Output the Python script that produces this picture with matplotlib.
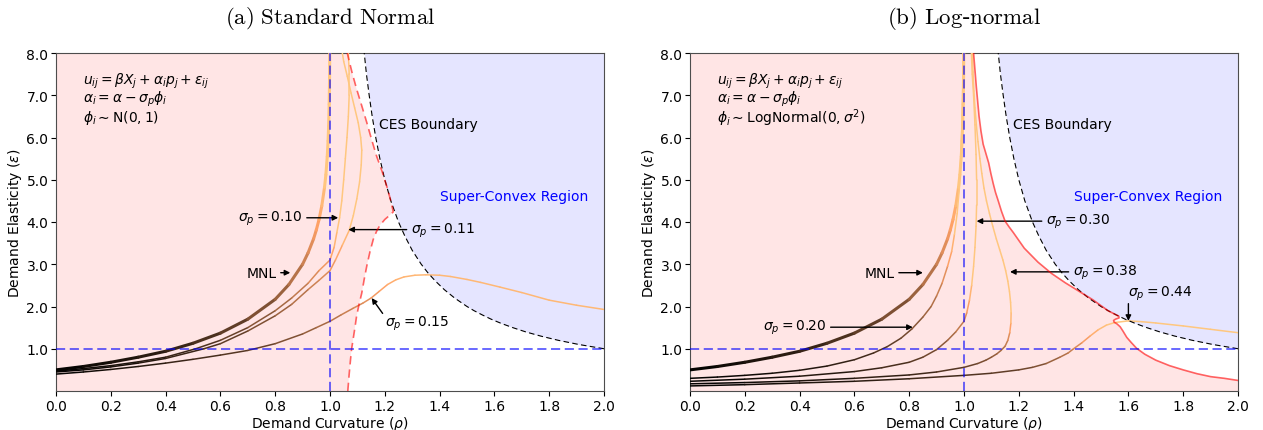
import numpy as np
import matplotlib.pyplot as plt
from matplotlib.collections import LineCollection

# MNL benchmark (same in both panels): demand curvature rho vs elasticity eps
mnl_rho = [0.0, 0.1, 0.2, 0.3, 0.4, 0.5, 0.6, 0.7, 0.8, 0.85, 0.9, 0.92, 0.94, 0.95, 0.96, 0.97, 0.98,
           0.985, 0.99, 0.993, 0.995, 0.997, 0.998, 0.9985, 0.9991]
mnl_eps = [0.50, 0.58, 0.68, 0.80, 0.94, 1.13, 1.37, 1.70, 2.17, 2.52, 3.00, 3.27, 3.60, 3.81, 4.06, 4.38, 4.82,
           5.12, 5.55, 5.92, 6.27, 6.79, 7.20, 7.49, 8.0]

# CES boundary
ces_rho = [2.0, 1.909, 1.833, 1.769, 1.714, 1.667, 1.625, 1.588, 1.556, 1.526, 1.5, 1.455, 1.417, 1.385,
           1.357, 1.333, 1.3, 1.273, 1.25, 1.222, 1.2, 1.182, 1.167, 1.154, 1.143, 1.133, 1.125]
ces_eps = [1.0, 1.1, 1.2, 1.3, 1.4, 1.5, 1.6, 1.7, 1.8, 1.9, 2.0, 2.2, 2.4, 2.6,
           2.8, 3.0, 3.33, 3.67, 4.0, 4.5, 5.0, 5.5, 6.0, 6.5, 7.0, 7.5, 8.0]

# (a) standard normal random coefficient
norm_curves = {
    "0.10": ([0.0, 0.1, 0.2, 0.3, 0.4, 0.51, 0.6, 0.7, 0.8, 0.86, 0.92, 0.96, 1.0, 1.015, 1.025, 1.035,
              1.043, 1.05, 1.056, 1.062, 1.067, 1.07, 1.07, 1.067],
             [0.47, 0.53, 0.6, 0.69, 0.8, 1.0, 1.2, 1.5, 1.9, 2.2, 2.55, 2.85, 3.1, 3.4, 3.75, 4.1,
              4.5, 5.0, 5.5, 6.0, 6.5, 7.0, 7.5, 8.0]),
    "0.11": ([0.0, 0.1, 0.2, 0.3, 0.4, 0.54, 0.6, 0.7, 0.8, 0.86, 0.92, 0.96, 1.0, 1.02, 1.045, 1.07, 1.085,
              1.098, 1.108, 1.114, 1.116, 1.112, 1.103, 1.09, 1.077, 1.063, 1.05, 1.045],
             [0.45, 0.5, 0.57, 0.66, 0.77, 1.0, 1.12, 1.42, 1.78, 2.05, 2.4, 2.62, 2.85, 3.1, 3.45, 3.8, 4.15,
              4.55, 4.95, 5.35, 5.7, 6.0, 6.35, 6.7, 7.05, 7.45, 7.8, 8.0]),
    "0.15": ([0.0, 0.1, 0.2, 0.3, 0.4, 0.5, 0.6, 0.7, 0.8, 0.9, 0.95, 1.0, 1.04, 1.085, 1.12, 1.15, 1.18,
              1.21, 1.24, 1.27, 1.31, 1.35, 1.4, 1.44, 1.5, 1.55, 1.62, 1.7, 1.8, 1.9, 2.0],
             [0.40, 0.45, 0.51, 0.58, 0.66, 0.75, 0.85, 0.96, 1.12, 1.35, 1.5, 1.65, 1.8, 1.96, 2.08, 2.2, 2.36,
              2.52, 2.63, 2.7, 2.74, 2.75, 2.74, 2.71, 2.64, 2.57, 2.46, 2.33, 2.15, 2.03, 1.93]),
}
norm_red_rho = [1.065, 1.07, 1.075, 1.079, 1.085, 1.091, 1.097, 1.106, 1.116, 1.125, 1.134, 1.146, 1.158, 1.17,
                1.182, 1.2, 1.218, 1.231, 1.222, 1.207, 1.19, 1.17, 1.152, 1.134, 1.115, 1.097, 1.08, 1.063]
norm_red_eps = [0.0, 0.4, 0.75, 1.0, 1.25, 1.5, 1.77, 2.05, 2.32, 2.65, 2.95, 3.3, 3.59, 3.78,
                3.92, 4.06, 4.16, 4.24, 4.5, 4.85, 5.2, 5.56, 5.95, 6.36, 6.77, 7.15, 7.55, 8.0]

# (b) log-normal random coefficient
logn_curves = {
    "0.20": ([0.0, 0.1, 0.2, 0.3, 0.4, 0.5, 0.6, 0.67, 0.72, 0.77, 0.81, 0.85, 0.88, 0.9, 0.92, 0.94,
              0.955, 0.965, 0.975, 0.983, 0.988, 0.992, 0.995, 0.997],
             [0.30, 0.33, 0.37, 0.42, 0.49, 0.59, 0.74, 0.9, 1.05, 1.25, 1.47, 1.75, 2.0, 2.25, 2.55, 2.95,
              3.3, 3.7, 4.2, 4.8, 5.5, 6.2, 7.0, 8.0]),
    "0.30": ([0.0, 0.2, 0.4, 0.6, 0.7, 0.8, 0.85, 0.9, 0.94, 0.97, 1.0, 1.01, 1.02, 1.028, 1.035, 1.04,
              1.044, 1.046, 1.046, 1.044, 1.04, 1.035, 1.03, 1.027],
             [0.23, 0.28, 0.35, 0.46, 0.55, 0.68, 0.8, 0.98, 1.2, 1.4, 1.65, 1.85, 2.15, 2.5, 2.95, 3.4,
              3.9, 4.4, 5.0, 5.6, 6.3, 7.0, 7.5, 8.0]),
    "0.38": ([0.0, 0.2, 0.4, 0.6, 0.8, 0.9, 1.0, 1.05, 1.08, 1.1, 1.12, 1.135, 1.15, 1.16, 1.167, 1.171,
              1.172, 1.17, 1.166, 1.16, 1.152, 1.142, 1.13, 1.118, 1.105, 1.093, 1.082, 1.073, 1.065,
              1.058, 1.051, 1.045, 1.04, 1.036, 1.033, 1.031],
             [0.17, 0.2, 0.24, 0.3, 0.38, 0.45, 0.56, 0.65, 0.73, 0.8, 0.88, 0.96, 1.06, 1.2, 1.38, 1.6,
              1.85, 2.1, 2.35, 2.6, 2.85, 3.1, 3.35, 3.6, 3.9, 4.2, 4.5, 4.8, 5.15,
              5.5, 5.9, 6.3, 6.7, 7.1, 7.55, 8.0]),
    "0.44": ([0.0, 0.2, 0.4, 0.6, 0.8, 1.0, 1.1, 1.2, 1.25, 1.3, 1.35, 1.38, 1.4, 1.43, 1.46, 1.49, 1.52,
              1.55, 1.6, 1.65, 1.7, 1.8, 1.9, 2.0],
             [0.12, 0.15, 0.19, 0.23, 0.29, 0.37, 0.42, 0.5, 0.56, 0.65, 0.8, 0.9, 1.0, 1.14, 1.3, 1.45, 1.56,
              1.62, 1.66, 1.64, 1.61, 1.54, 1.46, 1.38]),
}
logn_red_rho = [2.0, 1.95, 1.9, 1.85, 1.8, 1.75, 1.7, 1.66, 1.63, 1.61, 1.594, 1.58, 1.57, 1.558, 1.548,
                1.546, 1.553, 1.566, 1.565, 1.556, 1.541, 1.526, 1.5, 1.47, 1.44, 1.41, 1.37, 1.32, 1.27,
                1.22, 1.18, 1.165, 1.15, 1.137, 1.125, 1.115, 1.107, 1.098, 1.09, 1.08, 1.07, 1.062,
                1.055, 1.05, 1.045, 1.04, 1.035]
logn_red_eps = [0.25, 0.3, 0.34, 0.41, 0.5, 0.6, 0.73, 0.87, 1.01, 1.15, 1.27, 1.42, 1.52, 1.59, 1.63,
                1.67, 1.70, 1.73, 1.77, 1.80, 1.85, 1.9, 2.02, 2.16, 2.28, 2.4, 2.56, 2.78, 3.05,
                3.38, 3.75, 3.88, 4.02, 4.25, 4.5, 4.7, 4.9, 5.15, 5.4, 5.62, 5.84, 6.15,
                6.5, 6.85, 7.2, 7.6, 8.0]

# elasticity at which the copper colouring saturates, per curve
sat = {"MNL": 5.0, "0.10": 4.0, "0.11": 4.0, "0.15": 3.0,
       "0.20": 4.0, "0.30": 2.6, "0.38": 1.9, "0.44": 1.6}


def copper_curve(ax, rho, eps, lw, eps_sat):
    rho = np.asarray(rho, float)
    eps = np.asarray(eps, float)
    pts = np.column_stack([rho, eps])
    segs = np.stack([pts[:-1], pts[1:]], axis=1)
    run = np.maximum.accumulate(eps)
    mid = 0.5 * (run[:-1] + run[1:])
    v = np.clip((mid - eps[0]) / (eps_sat - eps[0]), 0, 1) ** 0.8
    lc = LineCollection(segs, colors=plt.cm.copper(v), linewidths=lw,
                        capstyle='round', joinstyle='round', zorder=3)
    ax.add_collection(lc)


def setup(ax):
    ax.set_xlim(0, 2)
    ax.set_ylim(0, 8)
    ax.set_xticks(np.arange(0, 2.01, 0.2))
    ax.set_yticks(np.arange(1, 8.01, 1))
    ax.xaxis.set_major_formatter('{x:.1f}')
    ax.yaxis.set_major_formatter('{x:.1f}')
    ax.tick_params(labelsize=10, pad=2, length=3.5)
    for s in ax.spines.values():
        s.set_color('0.3')
    ax.set_xlabel(r'Demand Curvature ($\rho$)', fontsize=10, labelpad=1)
    ax.set_ylabel(r'Demand Elasticity ($\varepsilon$)', fontsize=10, labelpad=2)
    # super-convex region and CES boundary
    ax.fill_betweenx(ces_eps, ces_rho, 2.0, color='blue', alpha=0.1, lw=0, zorder=0)
    ax.plot(ces_rho, ces_eps, color='black', ls=(0, (5, 3)), lw=0.8, zorder=4)
    ax.axhline(1.0, color='blue', ls=(0, (6, 3)), lw=1.1, alpha=0.75, zorder=5)
    ax.axvline(1.0, color='blue', ls=(0, (6, 3)), lw=1.1, alpha=0.75, zorder=5)
    ax.text(1.18, 6.31, 'CES Boundary', va='center', fontsize=10)
    ax.text(1.40, 4.61, 'Super-Convex Region', va='center', color='blue', fontsize=10)


arrow = dict(arrowstyle='-|>', color='black', lw=1.0, mutation_scale=8, shrinkA=1, shrinkB=0)

fig = plt.figure(figsize=(12.63, 4.31), dpi=100)
ax1 = fig.add_axes([56 / 1263, 39 / 431, 548 / 1263, 338 / 431])
ax2 = fig.add_axes([690 / 1263, 39 / 431, 548 / 1263, 338 / 431])

# ---- (a) Standard Normal ----
setup(ax1)
ax1.fill([0] + norm_red_rho + [0], [0] + norm_red_eps + [8], color='red', alpha=0.1, lw=0, zorder=0)
ax1.plot(norm_red_rho, norm_red_eps, color='red', alpha=0.6, lw=1.2, ls=(0, (5, 3)), zorder=4)
copper_curve(ax1, mnl_rho, mnl_eps, 2.2, sat["MNL"])
for key, (r, e) in norm_curves.items():
    copper_curve(ax1, r, e, 1.1, sat[key])

ax1.text(0.1, 7.35, r'$u_{ij} = \beta X_j + \alpha_i p_j + \varepsilon_{ij}$', va='center', fontsize=10)
ax1.text(0.1, 6.93, r'$\alpha_i = \alpha - \sigma_p \phi_i$', va='center', fontsize=10)
ax1.text(0.1, 6.49, r'$\phi_i \sim \mathrm{N}(0, 1)$', va='center', fontsize=10)

ax1.annotate('MNL', xy=(0.855, 2.8), xytext=(0.805, 2.8), ha='right', va='center', fontsize=10, arrowprops=arrow)
ax1.annotate(r'$\sigma_p = 0.10$', xy=(1.03, 4.1), xytext=(0.9, 4.1), ha='right', va='center', fontsize=10, arrowprops=arrow)
ax1.annotate(r'$\sigma_p = 0.11$', xy=(1.067, 3.82), xytext=(1.295, 3.82), ha='left', va='center', fontsize=10, arrowprops=arrow)
ax1.annotate('', xy=(1.152, 2.2), xytext=(1.195, 1.81), arrowprops=arrow)
ax1.text(1.20, 1.61, r'$\sigma_p = 0.15$', ha='left', va='center', fontsize=10)

# ---- (b) Log-normal ----
setup(ax2)
ax2.fill([0, 2.0] + logn_red_rho + [0], [0, 0] + logn_red_eps + [8], color='red', alpha=0.1, lw=0, zorder=0)
ax2.plot(logn_red_rho, logn_red_eps, color='red', alpha=0.6, lw=1.2, zorder=4)
copper_curve(ax2, mnl_rho, mnl_eps, 2.2, sat["MNL"])
for key, (r, e) in logn_curves.items():
    copper_curve(ax2, r, e, 1.1, sat[key])

ax2.text(0.1, 7.35, r'$u_{ij} = \beta X_j + \alpha_i p_j + \varepsilon_{ij}$', va='center', fontsize=10)
ax2.text(0.1, 6.93, r'$\alpha_i = \alpha - \sigma_p \phi_i$', va='center', fontsize=10)
ax2.text(0.1, 6.49, r'$\phi_i \sim \mathrm{LogNormal}(0, \sigma^2)$', va='center', fontsize=10)

ax2.annotate('MNL', xy=(0.85, 2.8), xytext=(0.747, 2.8), ha='right', va='center', fontsize=10, arrowprops=arrow)
ax2.annotate(r'$\sigma_p = 0.20$', xy=(0.813, 1.51), xytext=(0.498, 1.51), ha='right', va='center', fontsize=10, arrowprops=arrow)
ax2.annotate(r'$\sigma_p = 0.30$', xy=(1.046, 4.02), xytext=(1.299, 4.02), ha='left', va='center', fontsize=10, arrowprops=arrow)
ax2.annotate(r'$\sigma_p = 0.38$', xy=(1.168, 2.82), xytext=(1.397, 2.82), ha='left', va='center', fontsize=10, arrowprops=arrow)
ax2.annotate('', xy=(1.6, 1.66), xytext=(1.6, 2.1), arrowprops=arrow)
ax2.text(1.60, 2.32, r'$\sigma_p = 0.44$', ha='left', va='center', fontsize=10)

# panel captions
fig.text(330 / 1263, 1 - 18 / 431, r'$\mathrm{(a)\ Standard\ Normal}$', ha='center', va='center',
         fontsize=16.5, math_fontfamily='cm')
fig.text(964 / 1263, 1 - 18 / 431, r'$\mathrm{(b)\ Log}$-$\mathrm{normal}$', ha='center', va='center',
         fontsize=16.5, math_fontfamily='cm')

fig.savefig('out.png', dpi=100)
